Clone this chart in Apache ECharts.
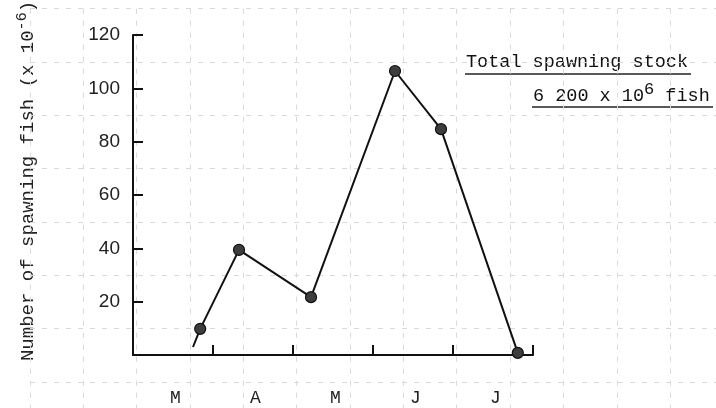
<!DOCTYPE html>
<html><head><meta charset="utf-8">
<script src="https://cdn.jsdelivr.net/npm/echarts@6/dist/echarts.min.js"></script>
<style>html,body{margin:0;padding:0;background:#fff}#c{width:716px;height:408px}</style>
</head><body><div id="c"></div>
<script>
// month labels (categories)
var monthLabels = ['M', 'A', 'M', 'J', 'J'];
// x positions in months from 1 March
var monthPos = [0.75, 0.84, 1.325, 2.225, 3.275, 3.85, 4.81];
// number of spawning fish (x 10^-6)
var fishCount = [3, 9.8, 39.4, 21.7, 106.5, 84.7, 0.8];
// which points carry a marker
var hasMarker = [false, true, true, true, true, true, true];
// y tick labels
var yTicks = [20, 40, 60, 80, 100, 120];

var chart = echarts.init(document.getElementById('c'), null, {renderer: 'canvas'});
var mono = '"Liberation Mono", "DejaVu Sans Mono", monospace';
var data = monthPos.map(function (x, i) {
  var d = {value: [x, fishCount[i]]};
  if (!hasMarker[i]) d.symbol = 'none';
  return d;
});
var faint = {show: true, lineStyle: {color: '#d9d9d9', width: 1, type: [5, 7]}};
chart.setOption({
  backgroundColor: '#fff',
  animation: false,
  grid: [
    {left: 133, right: 183, top: 35, bottom: 53},
    {left: 30, right: 0, top: 8.7, bottom: 0}
  ],
  xAxis: [
    {type: 'value', gridIndex: 0, min: 0, max: 5, interval: 1,
      axisLine: {lineStyle: {color: '#111', width: 2}},
      axisTick: {inside: true, length: 10, lineStyle: {color: '#111', width: 2}},
      axisLabel: {show: false}, splitLine: {show: false}},
    {type: 'category', gridIndex: 0, data: monthLabels, position: 'bottom', boundaryGap: true,
      axisLine: {show: false}, axisTick: {show: false},
      axisLabel: {margin: 34, fontFamily: mono, fontSize: 18, color: '#222', padding: [0, 0, 0, 5]}},
    {type: 'value', gridIndex: 1, min: 0, max: 12.86, interval: 1,
      axisLine: {show: false}, axisTick: {show: false}, axisLabel: {show: false},
      splitLine: faint}
  ],
  yAxis: [
    {type: 'value', gridIndex: 0, min: 0, max: 120, interval: 20,
      axisLine: {show: true, lineStyle: {color: '#111', width: 2}},
      axisTick: {show: true, inside: true, length: 10, lineStyle: {color: '#111', width: 2}},
      axisLabel: {margin: 13, fontFamily: '"Liberation Sans", Arial, sans-serif', fontSize: 19, color: '#222',
        formatter: function (v) { return yTicks.indexOf(v) >= 0 ? String(v) : ''; }},
      splitLine: {show: false}},
    {type: 'value', gridIndex: 1, min: 0, max: 7.49, interval: 1, inverse: true,
      axisLine: {show: false}, axisTick: {show: false}, axisLabel: {show: false},
      splitLine: faint}
  ],
  series: [{
    type: 'line', xAxisIndex: 0, yAxisIndex: 0, data: data,
    symbol: 'circle', symbolSize: 11,
    lineStyle: {color: '#111', width: 2},
    itemStyle: {color: '#3d3d3d', borderColor: '#111', borderWidth: 1.2},
    z: 5
  }],
  graphic: [
    {type: 'text', x: 28, y: 181, rotation: Math.PI / 2,
      style: {text: 'Number of spawning fish (x 10{sup|-6})', fontFamily: mono, fontSize: 19, fill: '#222',
        align: 'center', verticalAlign: 'middle',
        rich: {sup: {fontFamily: mono, fontSize: 15, fill: '#222', padding: [0, 0, 12, 0]}}}},
    {type: 'text', x: 466, y: 62,
      style: {text: 'Total spawning stock', fontFamily: mono, fontSize: 18.5, fill: '#111',
        align: 'left', verticalAlign: 'middle'}},
    {type: 'line', shape: {x1: 465, y1: 74, x2: 691, y2: 74}, style: {stroke: '#222', lineWidth: 1.5}},
    {type: 'text', x: 533, y: 96,
      style: {text: '6 200 x 10{sup|6} fish', fontFamily: mono, fontSize: 18.5, fill: '#111',
        align: 'left', verticalAlign: 'middle',
        rich: {sup: {fontFamily: mono, fontSize: 17, fill: '#111', padding: [0, 0, 14, 0]}}}},
    {type: 'line', shape: {x1: 532, y1: 107, x2: 713, y2: 107}, style: {stroke: '#222', lineWidth: 1.5}}
  ]
});
</script>
</body></html>
